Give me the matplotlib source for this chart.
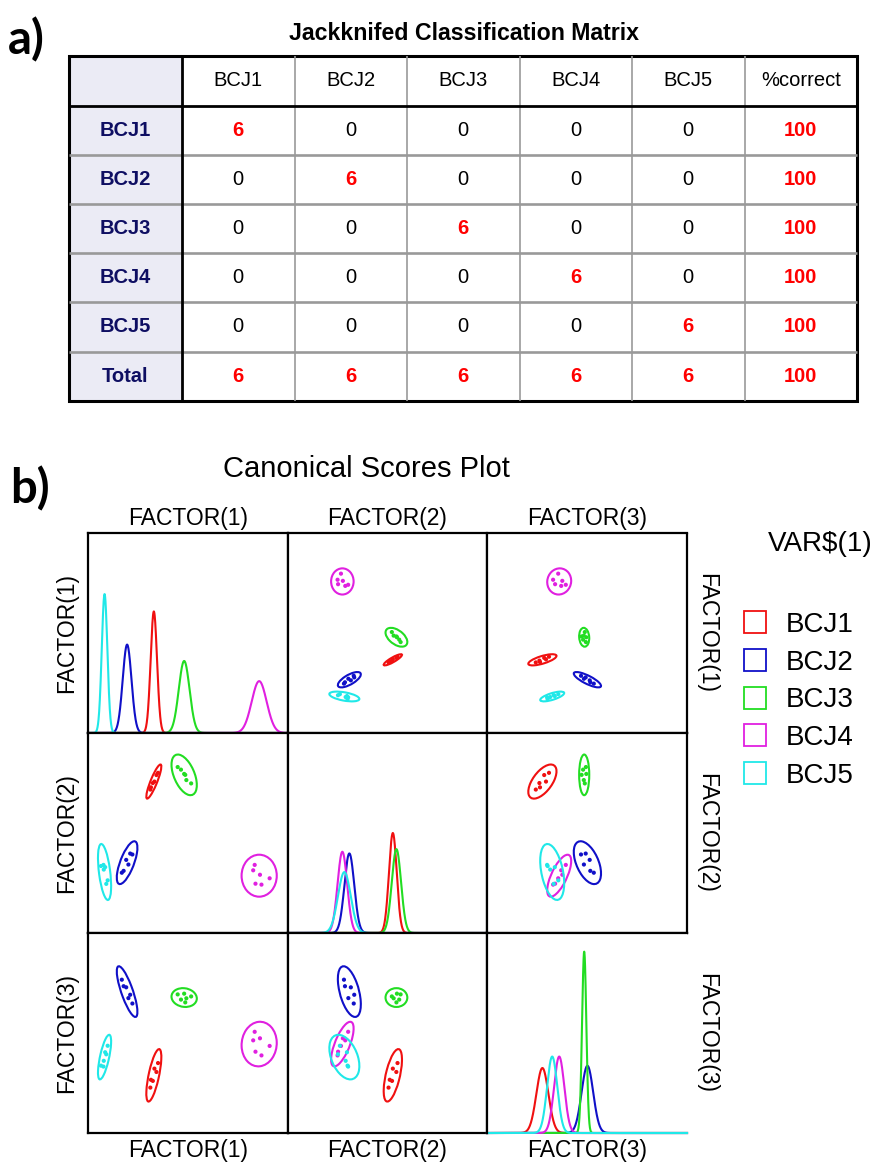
import numpy as np
import matplotlib
matplotlib.use("Agg")
import matplotlib.pyplot as plt
from matplotlib.patches import Ellipse, Rectangle
from matplotlib.lines import Line2D

plt.rcParams['font.family'] = ['Liberation Sans', 'DejaVu Sans']

# ---------------- a) Jackknifed classification matrix ----------------
groups = ['BCJ1', 'BCJ2', 'BCJ3', 'BCJ4', 'BCJ5']
table_cols = ['BCJ1', 'BCJ2', 'BCJ3', 'BCJ4', 'BCJ5', '%correct']
conf_matrix = [[6, 0, 0, 0, 0],
               [0, 6, 0, 0, 0],
               [0, 0, 6, 0, 0],
               [0, 0, 0, 6, 0],
               [0, 0, 0, 0, 6]]
pct_correct = [100, 100, 100, 100, 100]
total_counts = [6, 6, 6, 6, 6]
total_pct = 100

# ---------------- b) Canonical scores (FACTOR1, FACTOR2, FACTOR3) ----------------
factor_names = ['FACTOR(1)', 'FACTOR(2)', 'FACTOR(3)']
group_colors = ['#f01010', '#1010c8', '#22dd22', '#e020e0', '#20e8e8']

scores_bcj1 = [[-2.98, 1.03, -3.80], [-3.14, 0.91, -4.28], [-3.34, 0.56, -4.10],
               [-3.50, 0.48, -4.76], [-3.69, 0.25, -4.70], [-3.75, 0.13, -5.12]]
scores_bcj2 = [[-5.55, -3.36, -0.60], [-5.77, -3.31, -0.13], [-5.95, -3.90, -0.31],
               [-6.17, -3.65, 0.27], [-6.43, -4.24, 0.33], [-6.61, -4.34, 0.68]]
scores_bcj3 = [[-1.01, 1.34, -0.11], [-0.68, 1.20, -0.39], [-0.36, 0.97, -0.07],
               [-0.14, 0.64, -0.32], [-0.25, 0.92, -0.54], [0.34, 0.46, -0.22]]
scores_bcj4 = [[6.71, -3.92, -2.12], [6.56, -4.21, -2.58], [7.24, -4.45, -2.47],
               [8.21, -4.64, -2.88], [6.79, -4.93, -3.19], [7.39, -4.98, -3.39]]
scores_bcj5 = [[-8.03, -4.75, -2.87], [-8.17, -4.94, -3.33], [-8.28, -4.04, -3.22],
               [-8.42, -4.17, -3.68], [-8.70, -3.98, -3.94], [-8.45, -3.92, -3.99]]

group_means = [[-3.40, 0.56, -4.46], [-6.08, -3.80, 0.04], [-0.36, 0.92, -0.28],
               [7.16, -4.50, -2.78], [-8.34, -4.30, -3.48]]
group_sds = [[0.32, 0.39, 0.60], [0.44, 0.49, 0.58], [0.54, 0.465, 0.215],
             [0.75, 0.48, 0.51], [0.28, 0.64, 0.51]]
# correlations (r12, r13, r23)
group_corr = [[0.88, 0.70, 0.60], [0.70, -0.80, -0.50], [-0.50, -0.10, 0.00],
              [0.00, 0.05, 0.70], [-0.50, 0.70, -0.40]]

col_limits = [(-10, 10), (-10, 10), (-10, 10)]
row_limits = [(-13.26, 13.62), (-7.58, 3.17), (-7.56, 3.19)]
density_top = 2.046
ellipse_k = 2.35

all_scores = [np.array(s) for s in (scores_bcj1, scores_bcj2, scores_bcj3, scores_bcj4, scores_bcj5)]

W, H = 885, 1164
fig = plt.figure(figsize=(W / 100, H / 100), dpi=100)


def rect(x0, y0, x1, y1):
    return [x0 / W, 1 - y1 / H, (x1 - x0) / W, (y1 - y0) / H]


# overlay axes in pixel coordinates for table and labels
ov = fig.add_axes([0, 0, 1, 1], zorder=0)
ov.set_xlim(0, W)
ov.set_ylim(H, 0)
ov.axis('off')

# ---- table ----
col_edges = [69, 182] + [182 + 112.5 * k for k in range(1, 7)]
row_edges = [55.5, 105.5] + [105.5 + 49.2 * k for k in range(1, 7)]
tx0, tx1 = col_edges[0], col_edges[-1]
ty0, ty1 = row_edges[0], row_edges[-1]

ov.add_patch(Rectangle((tx0, ty0), col_edges[1] - tx0, ty1 - ty0, facecolor='#ebebf5', edgecolor='none'))
for y in row_edges[2:-1]:
    ov.plot([tx0, tx1], [y, y], color='#999999', lw=1.9, solid_capstyle='butt')
for x in col_edges[2:-1]:
    ov.plot([x, x], [ty0, ty1], color='#999999', lw=1.2, solid_capstyle='butt')
ov.plot([tx0, tx1], [row_edges[1]] * 2, color='black', lw=2.0, solid_capstyle='butt')
ov.plot([col_edges[1]] * 2, [ty0, ty1], color='black', lw=2.0, solid_capstyle='butt')
ov.add_patch(Rectangle((tx0, ty0), tx1 - tx0, ty1 - ty0, facecolor='none', edgecolor='black', lw=2.2))

ccen = [(col_edges[i] + col_edges[i + 1]) / 2 for i in range(len(col_edges) - 1)]
rcen = [(row_edges[i] + row_edges[i + 1]) / 2 for i in range(len(row_edges) - 1)]
navy = '#0e0e62'
red = '#ff0000'
tfs = 14.5
for j, name in enumerate(table_cols):
    ov.text(ccen[j + 1], rcen[0], name, ha='center', va='center', fontsize=tfs, color='black')
row_names = groups + ['Total']
for i, rn in enumerate(row_names):
    ov.text(ccen[0], rcen[i + 1], rn, ha='center', va='center', fontsize=tfs, color=navy, fontweight='bold')
for i in range(5):
    for j in range(5):
        v = conf_matrix[i][j]
        hit = (i == j)
        ov.text(ccen[j + 1], rcen[i + 1], str(v), ha='center', va='center', fontsize=tfs,
                color=red if hit else 'black', fontweight='bold' if hit else 'normal')
    ov.text(ccen[6], rcen[i + 1], str(pct_correct[i]), ha='center', va='center', fontsize=tfs,
            color=red, fontweight='bold')
for j in range(5):
    ov.text(ccen[j + 1], rcen[6], str(total_counts[j]), ha='center', va='center', fontsize=tfs,
            color=red, fontweight='bold')
ov.text(ccen[6], rcen[6], str(total_pct), ha='center', va='center', fontsize=tfs, color=red, fontweight='bold')

ov.text(464, 33, 'Jackknifed Classification Matrix', ha='center', va='center', fontsize=16.7, fontweight='bold')
ov.text(8, 40, 'a)', ha='left', va='center', fontsize=34, fontweight='bold', family=['Lato', 'DejaVu Sans'])
ov.text(10, 489, 'b)', ha='left', va='center', fontsize=34, fontweight='bold', family=['Lato', 'DejaVu Sans'])

# ---- scatterplot matrix ----
px_cols = [88, 287.5, 487, 687]
px_rows = [533.5, 733, 933, 1133]
for i in range(3):
    for j in range(3):
        ax = fig.add_axes(rect(px_cols[j], px_rows[i], px_cols[j + 1], px_rows[i + 1]), zorder=2)
        ax.set_xticks([])
        ax.set_yticks([])
        for sp in ax.spines.values():
            sp.set_linewidth(1.6)
        ax.set_xlim(col_limits[j])
        if i == j:
            xs = np.linspace(col_limits[j][0], col_limits[j][1], 1200)
            for g in range(5):
                m = group_means[g][i]
                s = group_sds[g][i]
                ys = np.exp(-0.5 * ((xs - m) / s) ** 2) / (s * np.sqrt(2 * np.pi))
                ax.plot(xs, ys, color=group_colors[g], lw=1.5, clip_on=False)
            ax.set_ylim(0, density_top)
            if i == 2:
                ax.spines['bottom'].set_visible(False)
                ax.spines['right'].set_visible(False)
        else:
            ax.set_ylim(row_limits[i])
            pair = {(0, 1): 0, (0, 2): 1, (1, 2): 2}[(min(i, j), max(i, j))]
            for g in range(5):
                mx, my = group_means[g][j], group_means[g][i]
                sx, sy = group_sds[g][j], group_sds[g][i]
                r = group_corr[g][pair]
                cov = np.array([[sx * sx, r * sx * sy], [r * sx * sy, sy * sy]])
                vals, vecs = np.linalg.eigh(cov)
                ang = np.degrees(np.arctan2(vecs[1, 1], vecs[0, 1]))
                e = Ellipse((mx, my), 2 * ellipse_k * np.sqrt(vals[1]), 2 * ellipse_k * np.sqrt(vals[0]),
                            angle=ang, facecolor='none', edgecolor=group_colors[g], lw=1.5)
                ax.add_patch(e)
                pts = all_scores[g]
                ax.scatter(pts[:, j], pts[:, i], s=9, color=group_colors[g], edgecolors='none')

lfs = 16.5
for j in range(3):
    cx = (px_cols[j] + px_cols[j + 1]) / 2
    ov.text(cx, 518, factor_names[j], ha='center', va='center', fontsize=lfs)
    ov.text(cx, 1150, factor_names[j], ha='center', va='center', fontsize=lfs)
for i in range(3):
    cy = (px_rows[i] + px_rows[i + 1]) / 2
    ov.text(67, cy, factor_names[i], ha='center', va='center', rotation=90, fontsize=lfs)
    ov.text(707, cy, factor_names[i], ha='center', va='center', rotation=270, fontsize=lfs)

ov.text(366, 469, 'Canonical Scores Plot', ha='center', va='center', fontsize=21)
ov.text(820, 544, r'VAR\$(1)', ha='center', va='center', fontsize=20)

handles = [Line2D([], [], marker='s', ls='none', mfc='none', mec=c, ms=16, mew=1.3) for c in group_colors]
fig.legend(handles, groups, loc='upper left', bbox_to_anchor=(741 / W, 1 - 612 / H), frameon=False,
           fontsize=20, handlelength=1.0, handletextpad=0.6, labelspacing=0.42, borderpad=0, borderaxespad=0)

fig.savefig('out.png', dpi=100)
